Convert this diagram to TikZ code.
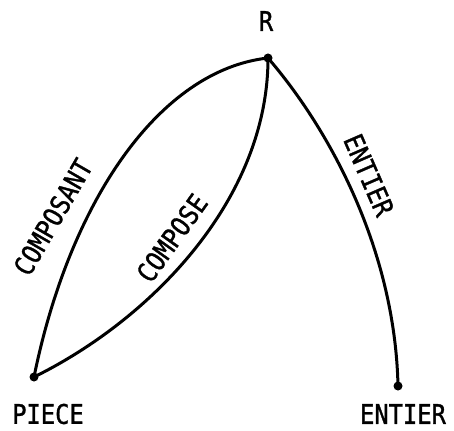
\documentclass[tikz,border=0pt]{standalone}
\usepackage{fontspec}
\setmonofont[FakeStretch=0.88, FakeBold=1.2]{DejaVu Sans Mono}
\begin{document}
\begin{tikzpicture}[x=1pt,y=-1pt,
  lbl/.style={font=\ttfamily\fontsize{27}{27}\selectfont, inner sep=0pt},
  edge/.style={line width=3pt},
  pt/.style={circle, fill=black, inner sep=0pt, minimum size=9pt}]
\useasboundingbox (0,0) rectangle (454,430);
\node[pt] (R) at (268,58) {};
\node[pt] (P) at (34,377) {};
\node[pt] (E) at (398,386) {};
\node[lbl] (Rl) at (266,21) {R};
\node[lbl] (Pl) at (48,414) {PIECE};
\node[lbl] (El) at (403,414) {ENTIER};
\draw[edge] (P.center) .. controls (70,200) and (160,70) .. (R.center);
\draw[edge] (P.center) .. controls (150,320) and (268,200) .. (R.center);
\draw[edge] (R.center) .. controls (330,130) and (395,250) .. (E.center);
\node[lbl, rotate=60] (c1) at (53,217) {COMPOSANT};
\node[lbl, rotate=54.5] (c2) at (172,238) {COMPOSE};
\node[lbl, rotate=-66.5] (c3) at (369,175) {ENTIER};
\end{tikzpicture}
\end{document}
